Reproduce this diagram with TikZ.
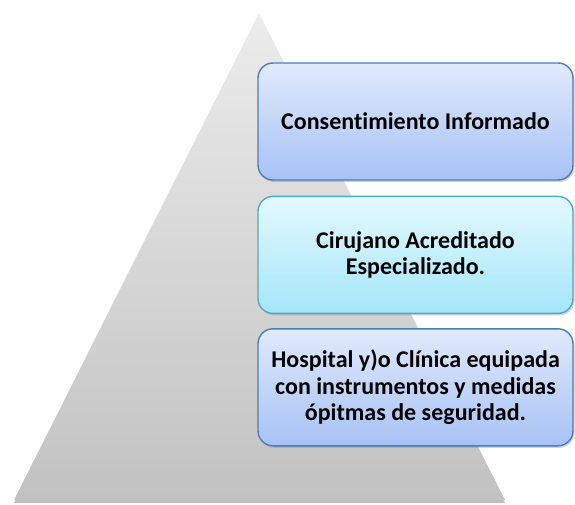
\documentclass[tikz,border=0pt]{standalone}
\usepackage{fontspec}
\setmainfont{Carlito}[Ligatures=NoCommon]
\usetikzlibrary{positioning,shadows}
\definecolor{bluetop}{HTML}{E0EAFC}
\definecolor{bluebot}{HTML}{A6C2F5}
\definecolor{blueline}{HTML}{4A7EBB}
\definecolor{cyantop}{HTML}{E4F9FE}
\definecolor{cyanbot}{HTML}{A4E6FA}
\definecolor{cyanline}{HTML}{4BACC6}
\tikzset{
  levelbox/.style={rounded corners=15pt, line width=1.4pt, minimum width=315pt,
    minimum height=117pt, align=center, font=\fontsize{24}{26.5}\selectfont\bfseries,
    drop shadow={shadow xshift=1.5pt, shadow yshift=-2pt, opacity=.35}},
  bluebox/.style={levelbox, draw=blueline, top color=bluetop, bottom color=bluebot},
  cyanbox/.style={levelbox, draw=cyanline, top color=cyantop, bottom color=cyanbot}
}
\begin{document}
\begin{tikzpicture}[x=1pt,y=1pt]
      \useasboundingbox (0,0) rectangle (575,504);
      % pyramid
      \shade[top color=gray!15, bottom color=gray!48,
        drop shadow={shadow xshift=0pt, shadow yshift=-3pt, opacity=.5}]
        (14,4) -- (505,4) -- (259,491) -- cycle;
      % levels
      \node[bluebox] (consent) at (415.5,382.5) {Consentimiento Informado};
      \node[cyanbox, below=15pt of consent] (surgeon) {Cirujano Acreditado\\ Especializado.};
      \node[bluebox, below=14pt of surgeon] (hospital) {Hospital y)o Clínica equipada\\ con instrumentos y medidas\\ ópitmas de seguridad.};
    \end{tikzpicture}
\end{document}
